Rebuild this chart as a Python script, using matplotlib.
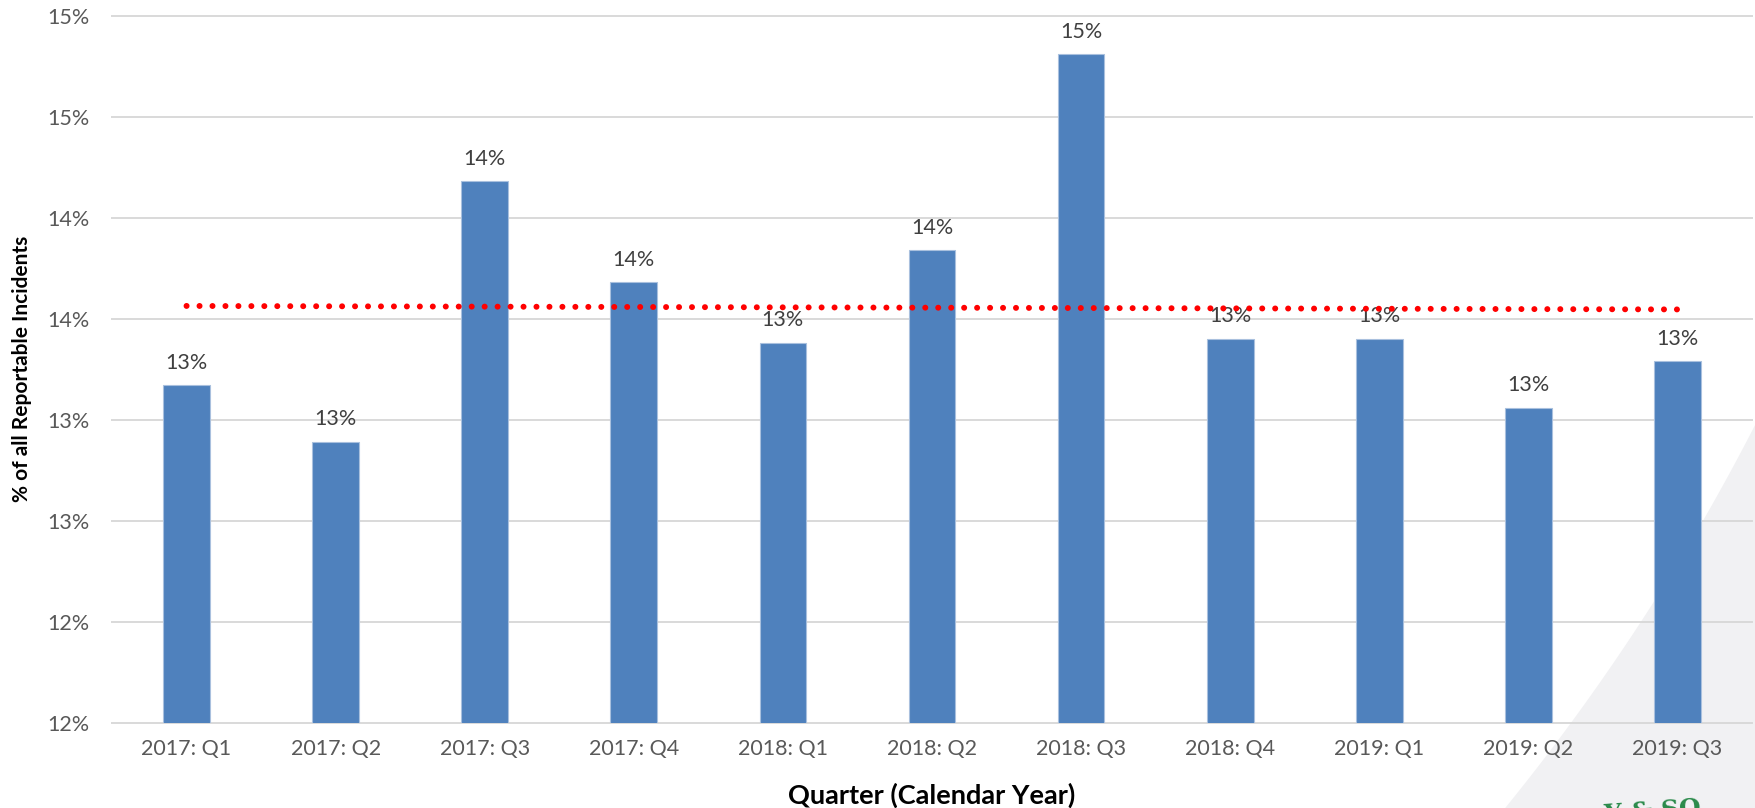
import numpy as np
import matplotlib
matplotlib.use("Agg")
import matplotlib.pyplot as plt
from matplotlib.patches import Polygon

# Share of reportable incidents by calendar quarter (percent)
quarters = ["2017: Q1", "2017: Q2", "2017: Q3", "2017: Q4",
            "2018: Q1", "2018: Q2", "2018: Q3", "2018: Q4",
            "2019: Q1", "2019: Q2", "2019: Q3"]
share_pct = [13.17, 12.89, 14.18, 13.68, 13.38, 13.84, 14.81, 13.40, 13.40, 13.06, 13.29]

# Value axis ticks and their displayed (whole-percent) labels
y_ticks = [11.5, 12.0, 12.5, 13.0, 13.5, 14.0, 14.5, 15.0]
y_tick_labels = ["12%", "12%", "13%", "13%", "14%", "14%", "15%", "15%"]

W, H = 1756, 808
FONT = "Lato"

fig = plt.figure(figsize=(W / 100, H / 100), dpi=100)
fig.patch.set_facecolor("white")


def px(x, y):
    """Pixel position (from top-left) to figure fraction."""
    return (x / W, 1 - y / H)


# Light grey swoosh in the lower-right corner of the slide
cx, cy, r = -199.0, -577.0, 2196.0
ys = np.linspace(423, 808, 60)
xs = cx + np.sqrt(r ** 2 - (ys - cy) ** 2)
pts = [px(a, b) for a, b in zip(xs, ys)] + [px(W, H)]
fig.patches.append(Polygon(pts, closed=True, transform=fig.transFigure,
                           facecolor="#F1F1F3", edgecolor="none", zorder=-1))

left, top, right, bottom = 112, 15.7, 1752, 722.7
ax = fig.add_axes([left / W, 1 - bottom / H, (right - left) / W, (bottom - top) / H])
ax.set_facecolor("none")
ax.set_zorder(1)

x = np.arange(len(quarters))
ax.bar(x, share_pct, width=0.313, color="#4F81BD", edgecolor="#A9C0DE",
       linewidth=0.8, zorder=2)

# Value labels above the bars (Excel-style half-up rounding)
for xi, v in zip(x, share_pct):
    ax.annotate(f"{int(np.floor(v + 0.5))}%", (xi, v), xytext=(0, 9),
                textcoords="offset points", ha="center", va="bottom",
                fontsize=15.5, color="#404040", family=FONT, zorder=3)

# Linear trend line
coef = np.polyfit(x, share_pct, 1)
tx = np.array([x[0], x[-1]])
ax.plot(tx, np.polyval(coef, tx), color="#FF0000", lw=4.3,
        linestyle=(0, (0.01, 2.16)), dash_capstyle="round", zorder=4)

ax.set_xlim(-0.5, len(quarters) - 0.5)
ax.set_ylim(y_ticks[0], y_ticks[-1])
ax.set_yticks(y_ticks)
ax.set_yticklabels(y_tick_labels)
ax.set_xticks(x)
ax.set_xticklabels(quarters)
ax.tick_params(axis="both", length=0, labelsize=15.5, labelcolor="#595959")
ax.tick_params(axis="y", pad=16)
ax.tick_params(axis="x", pad=12)
for lab in ax.get_xticklabels() + ax.get_yticklabels():
    lab.set_family(FONT)

ax.yaxis.grid(True, color="#D9D9D9", linewidth=1.4)
ax.set_axisbelow(True)
for gl in ax.get_ygridlines():
    gl.set_clip_on(False)
for s in ax.spines.values():
    s.set_visible(False)

fig.text(*px(932, 795), "Quarter (Calendar Year)", ha="center", va="center",
         fontsize=19.5, fontweight="bold", color="black", family=FONT)
fig.text(*px(22, 369), "% of all Reportable Incidents", rotation=90,
         ha="center", va="center", fontsize=15, fontweight="bold",
         color="black", family=FONT)

# Company wordmark, partly running off the bottom edge
fig.text(*px(1603, 796), "Y & SO", ha="left", va="top", fontsize=18,
         color="#2A8A4A", family="DejaVu Serif", fontweight="bold",
         rotation=4)

fig.savefig("out.png", dpi=100)
